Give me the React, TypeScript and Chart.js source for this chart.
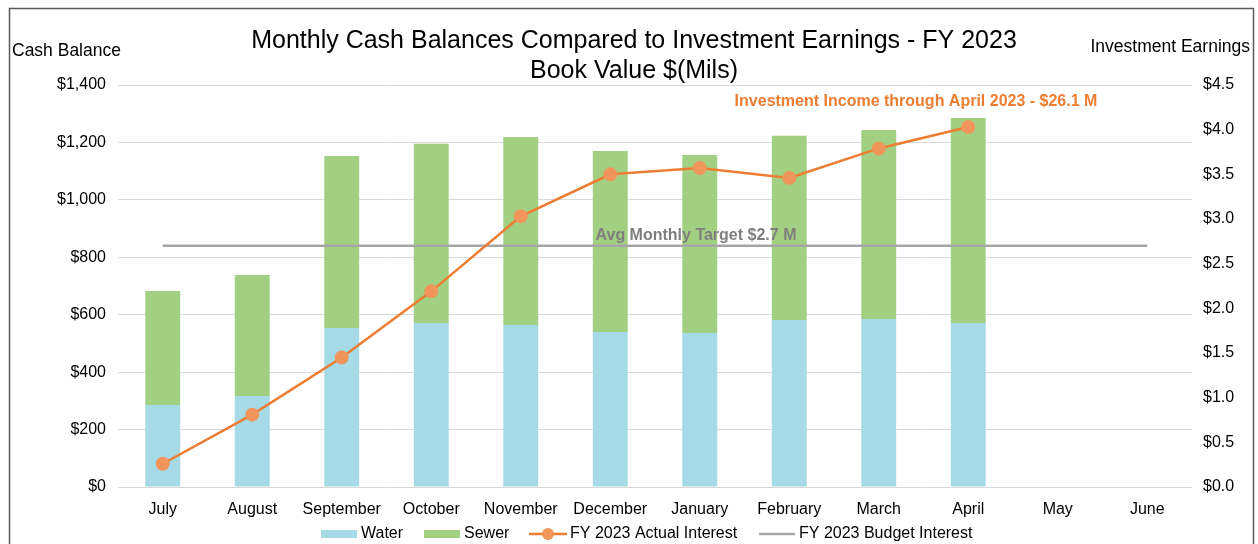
import React, { useEffect, useRef } from "react";
import { Chart, registerables } from "chart.js";
Chart.register(...registerables);

const months = ["July", "August", "September", "October", "November", "December", "January", "February", "March", "April", "May", "June"];
const water = [286, 317, 554, 571, 564, 540, 536, 582, 585, 571, null, null];
const sewer = [397, 421, 599, 624, 655, 630, 620, 641, 658, 714, null, null];
const actualInterest = [0.26, 0.81, 1.45, 2.19, 3.03, 3.5, 3.57, 3.46, 3.79, 4.03, null, null];
const budgetInterest = [2.7, 2.7, 2.7, 2.7, 2.7, 2.7, 2.7, 2.7, 2.7, 2.7, 2.7, 2.7];
const titleLines = ["Monthly Cash Balances Compared to Investment Earnings - FY 2023", "Book Value $(Mils)"];
const leftAxisTitle = "Cash Balance";
const rightAxisTitle = "Investment Earnings";
const targetNote = "Avg Monthly Target $2.7 M";
const incomeNote = "Investment Income through April 2023 - $26.1 M";
const legendLabels = ["Water", "Sewer", "FY 2023 Actual Interest", "FY 2023 Budget Interest"];

const FONT = "'Liberation Sans', Arial, sans-serif";
const BLUE = "#A6DAE6";
const GREEN = "#A2D083";
const ORANGE = "#ED7D31";
const ORANGE_PT = "#F0965A";
const GRAY = "#A6A6A6";

const decorPlugin = {
  id: "decor",
  afterDraw(chart: any) {
    const ctx = chart.ctx as CanvasRenderingContext2D;
    ctx.save();
    // frame
    ctx.strokeStyle = "#595959";
    ctx.lineWidth = 1.5;
    ctx.strokeRect(9.5, 8.5, 1244, 560);
    // title
    ctx.fillStyle = "#000";
    ctx.font = `25px ${FONT}`;
    ctx.textAlign = "center";
    ctx.textBaseline = "middle";
    ctx.fillText(titleLines[0], 634, 41);
    ctx.fillText(titleLines[1], 634, 71);
    // axis titles
    ctx.font = `17.5px ${FONT}`;
    ctx.textAlign = "left";
    ctx.fillText(leftAxisTitle, 12, 51);
    ctx.textAlign = "right";
    ctx.fillText(rightAxisTitle, 1250, 47);
    // annotations
    ctx.font = `bold 16px ${FONT}`;
    ctx.fillStyle = "#7F7F7F";
    ctx.textAlign = "center";
    ctx.fillText(targetNote, 696, 236);
    ctx.fillStyle = ORANGE;
    ctx.fillText(incomeNote, 916, 102);
    // legend
    const ly = 534;
    ctx.font = `16px ${FONT}`;
    ctx.textAlign = "left";
    ctx.fillStyle = BLUE;
    ctx.fillRect(321, ly - 4, 36, 8);
    ctx.fillStyle = "#000";
    ctx.fillText(legendLabels[0], 361, ly);
    ctx.fillStyle = GREEN;
    ctx.fillRect(424, ly - 4, 36, 8);
    ctx.fillStyle = "#000";
    ctx.fillText(legendLabels[1], 464, ly);
    ctx.strokeStyle = ORANGE;
    ctx.lineWidth = 2.5;
    ctx.beginPath();
    ctx.moveTo(529, ly);
    ctx.lineTo(567, ly);
    ctx.stroke();
    ctx.fillStyle = ORANGE_PT;
    ctx.beginPath();
    ctx.arc(548, ly, 6, 0, Math.PI * 2);
    ctx.fill();
    ctx.fillStyle = "#000";
    ctx.fillText(legendLabels[2], 570, ly);
    ctx.strokeStyle = GRAY;
    ctx.beginPath();
    ctx.moveTo(759, ly);
    ctx.lineTo(795, ly);
    ctx.stroke();
    ctx.fillText(legendLabels[3], 799, ly);
    ctx.restore();
  },
};

export default function App() {
  const ref = useRef<HTMLCanvasElement | null>(null);
  useEffect(() => {
    if (!ref.current) return;
    const chart = new Chart(ref.current, {
      type: "bar",
      data: {
        labels: months,
        datasets: [
          { type: "line", label: legendLabels[2], data: actualInterest, yAxisID: "y1", borderColor: ORANGE, borderWidth: 2.5, pointRadius: 7, pointBackgroundColor: ORANGE_PT, pointBorderWidth: 0, order: 0 } as any,
          { type: "line", label: legendLabels[3], data: budgetInterest, yAxisID: "y1", borderColor: GRAY, borderWidth: 2.5, pointRadius: 0, order: 1 } as any,
          { label: legendLabels[0], data: water, backgroundColor: BLUE, stack: "cash", yAxisID: "y", barPercentage: 0.39, categoryPercentage: 1, order: 2 },
          { label: legendLabels[1], data: sewer, backgroundColor: GREEN, stack: "cash", yAxisID: "y", barPercentage: 0.39, categoryPercentage: 1, order: 2 },
        ],
      },
      options: {
        responsive: false,
        animation: false,
        layout: { padding: { top: 85, bottom: 27, left: 0, right: 0 } },
        plugins: { legend: { display: false }, tooltip: { enabled: false }, title: { display: false } },
        scales: {
          x: {
            stacked: true,
            grid: { display: false },
            border: { display: false },
            ticks: { color: "#000", font: { family: FONT, size: 16 }, padding: 5, maxRotation: 0 },
            afterFit(s: any) { s.height = 30; },
          },
          y: {
            stacked: true,
            position: "left",
            min: 0,
            max: 1400,
            ticks: { stepSize: 200, color: "#000", font: { family: FONT, size: 16 }, padding: 12, callback: (v: any) => "$" + Number(v).toLocaleString("en-US") },
            grid: { color: "#D9D9D9", lineWidth: 1, drawTicks: false },
            border: { display: false },
            afterFit(s: any) { s.width = 118; },
          },
          y1: {
            position: "right",
            min: 0,
            max: 4.5,
            ticks: { stepSize: 0.5, color: "#000", font: { family: FONT, size: 16 }, padding: 11, callback: (v: any) => "$" + Number(v).toFixed(1) },
            grid: { display: false, drawTicks: false },
            border: { display: false },
            afterFit(s: any) { s.width = 66; },
          },
        },
      },
      plugins: [decorPlugin],
    });
    return () => chart.destroy();
  }, []);
  return (
    <div style={{ position: "fixed", left: 0, top: 0, width: 1258, height: 544, background: "#fff" }}>
      <canvas ref={ref} width={1258} height={544} />
    </div>
  );
}
